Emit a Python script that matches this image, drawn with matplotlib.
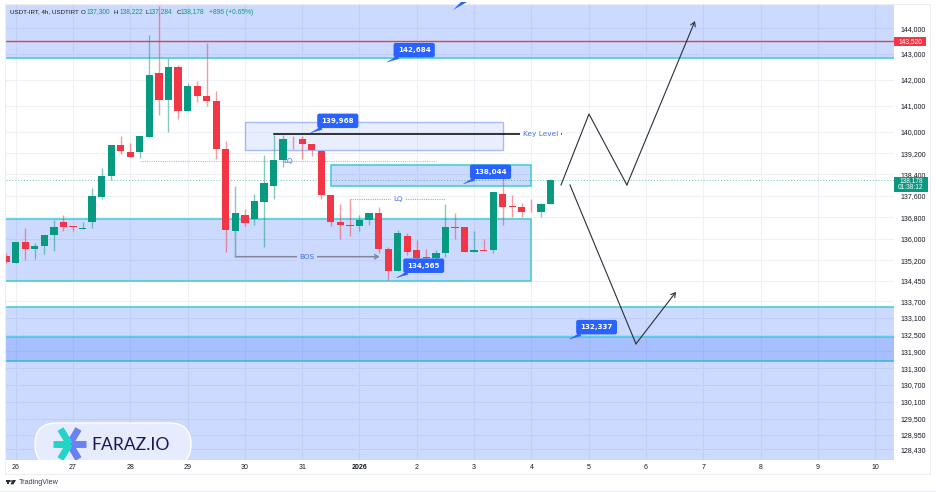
import matplotlib
matplotlib.use("Agg")
import matplotlib.pyplot as plt
from matplotlib.patches import Rectangle, FancyBboxPatch, Circle, Polygon
from matplotlib.ticker import NullLocator

# candles, 4h bars, first one is the cut off bar at the left edge
bar_index = list(range(-1, 57))
opens = [135360, 135100, 135870, 135620, 135735, 136130, 136618, 136470, 136370, 136630, 137561, 138348,
         139518, 139241, 139241, 139821, 142274, 141222, 142483, 140801, 141761, 141388, 141196, 139366,
         136285, 136879, 136730, 137375, 137961, 138927, 139707, 139722, 139555, 139279, 137624, 136630,
         136518, 136481, 136681, 136941, 135630, 134823, 136111, 135583, 135310, 135300, 135463, 136433,
         136433, 135499, 135583, 135572, 137662, 137204, 137167, 137000, 137000, 137300]
highs = [135470, 135870, 136385, 135852, 136137, 136692, 136879, 136470, 136618, 137874, 138626, 139518,
         139848, 139570, 139836, 143739, 144887, 142832, 142572, 141865, 141965, 143415, 141569, 139658,
         137961, 137090, 137662, 139128, 139886, 139886, 139859, 139859, 139555, 139316, 137624, 137277,
         137474, 136879, 136964, 137176, 135705, 136311, 136221, 135952, 135631, 135583, 137277, 136941,
         136433, 136285, 135978, 137725, 138250, 137624, 137314, 137474, 137314, 138222]
lows = [135110, 135100, 135216, 135252, 135436, 135558, 136274, 136285, 136370, 136407, 137474, 138186,
        139165, 139041, 139026, 139821, 140648, 140011, 140484, 140801, 141146, 140992, 138977, 135521,
        135336, 136481, 136507, 135705, 137486, 138686, 139343, 138977, 139090, 137486, 136481, 135989,
        136100, 136295, 136507, 135463, 134483, 134823, 135399, 135106, 134996, 135106, 135315, 135978,
        135499, 135499, 135558, 135484, 136496, 136815, 136815, 136975, 136815, 137284]
closes = [135150, 135867, 135620, 135730, 136137, 136433, 136433, 136445, 136396, 137586, 138348, 139518,
          139268, 139063, 139836, 142185, 141222, 142483, 140801, 141761, 141388, 141196, 139366, 136322,
          136964, 136593, 137389, 138084, 138927, 139722, 139685, 139555, 139306, 137624, 136630, 136518,
          136480, 136681, 136964, 135620, 134823, 136221, 135521, 135300, 135275, 135463, 136433, 136407,
          135499, 135572, 135558, 137725, 137187, 137167, 136978, 136975, 137300, 138178]

price_ticks = [144000, 143000, 142000, 141000, 140000, 139200, 138400, 137600, 136800, 136000, 135200, 134450,
               133700, 133100, 132500, 131900, 131300, 130700, 130100, 129500, 128950, 128430]
date_ticks = list(range(0, 96, 6))
date_labels = ["26", "27", "28", "29", "30", "31", "2026", "2", "3", "4", "5", "6", "7", "8", "9", "10"]

# zones: x start, x end, price top, price bottom
zone_x0 = [-3, -3, -3, -3, 33.0]
zone_x1 = [95, 53.96, 95, 95, 53.96]
zone_top = [145500, 136730, 133501, 132419, 138751]
zone_bot = [142863, 134447, 131560, 127500, 137972]

callout_x = [30.9, 46.9, 39.9, 38.9, 58.0]
callout_price = [139968, 138044, 134565, 142684, 132337]
callout_text = ["139,968", "138,044", "134,565", "142,684", "132,337"]

# projected paths
path_up_x = [57.1, 60.03, 64.0, 71.13]
path_up_y = [137999, 140686, 137999, 144286]
path_down_x = [58.04, 64.95, 69.14]
path_down_y = [137999, 132168, 134046]

last_price = 138178
line_price = 143520

GREEN = "#089981"
RED = "#f23645"
BLUE = "#2962ff"
CYAN = "#3ccbd8"
TXT = "#131722"

fig = plt.figure(figsize=(9.36, 4.92), dpi=100)
ax = fig.add_axes([6 / 936, 1 - 460 / 492, 888 / 936, 455 / 492])
ax.set_yscale("log")
ax.set_xlim(-1.016, 91.97)
ax.set_ylim(128062, 144916)

ax.yaxis.tick_right()
ax.set_yticks(price_ticks)
ax.set_yticklabels([f"{p:,}" for p in price_ticks])
ax.yaxis.set_minor_locator(NullLocator())
ax.set_xticks(date_ticks)
ax.set_xticklabels(date_labels)
ax.tick_params(axis="both", length=0, labelsize=5, labelcolor=TXT)
ax.tick_params(axis="y", pad=5)
ax.tick_params(axis="x", pad=3)
for lab in ax.get_xticklabels() + ax.get_yticklabels():
    lab.set_family("Liberation Sans")
ax.get_xticklabels()[6].set_fontweight("bold")
ax.grid(True, color="#eef1f6", lw=0.8)
ax.set_axisbelow(True)
for s in ax.spines.values():
    s.set_visible(False)

# zones
for x0, x1, t, b in zip(zone_x0, zone_x1, zone_top, zone_bot):
    ax.add_patch(Rectangle((x0, b), x1 - x0, t - b, fc=(41 / 255, 98 / 255, 1, 0.23), ec=CYAN, lw=1.1, zorder=1))
# key level box
ax.add_patch(Rectangle((24.05, 139317), 27.0, 140392 - 139317, fc=(41 / 255, 98 / 255, 1, 0.1),
                       ec=(0.4, 0.55, 0.95, 0.55), lw=1.0, zorder=1))

# candles
for i, o, h, l, c in zip(bar_index, opens, highs, lows, closes):
    col = GREEN if c >= o else RED
    ax.vlines(i, l, h, color=col, lw=1.0, alpha=0.5, zorder=3)
    ax.bar(i, max(abs(c - o), 22), bottom=min(o, c), width=0.76, color=col, lw=0, zorder=3)

ax.axhline(line_price, color="#e5404a", lw=1.0, zorder=2)
ax.axhline(last_price, color=GREEN, lw=0.7, ls=(0, (1, 2)), alpha=0.6, zorder=2)

# key level
ax.plot([27, 57.1], [139935, 139935], color="black", lw=1.1, zorder=4)
ax.text(54.95, 139935, "Key Level", color="#3f6ff0", fontsize=5.3, ha="center", va="center", zorder=5,
        family="DejaVu Sans", bbox=dict(fc="white", ec="none", pad=2))

# LQ lines
ax.plot([13, 44], [138920, 138920], color="#b9bcc0", lw=0.8, ls=(0, (1, 1)), zorder=2)
ax.text(28.5, 138920, "LQ", color="#3f6ff0", fontsize=5.2, ha="center", va="center", zorder=5)
ax.plot([35, 45], [137474, 137474], color="#a9acb2", lw=0.8, ls=(0, (1, 1)), zorder=2)
ax.text(40, 137474, "LQ", color="#3f6ff0", fontsize=5.2, ha="center", va="center", zorder=5,
        bbox=dict(fc="white", ec="none", pad=1.5))

# BOS
ax.annotate("", xy=(38.1, 135336), xytext=(23, 135336), zorder=4,
            arrowprops=dict(arrowstyle="->,head_length=0.25,head_width=0.15", color="#7f8797", lw=1.1, shrinkA=0, shrinkB=0))
ax.vlines(23, 135336, 136300, color="#8fa9b8", lw=1.0, zorder=4)
ax.text(30.5, 135336, "BOS", color="#3f6ff0", fontsize=5.2, ha="center", va="center", zorder=5,
        bbox=dict(fc="#cdd9fd", ec="none", pad=1.5))

# projected paths
ax.plot(path_up_x[:-1], path_up_y[:-1], color="#2b2f36", lw=0.8, zorder=4)
ax.annotate("", xy=(path_up_x[-1], path_up_y[-1]), xytext=(path_up_x[-2], path_up_y[-2]), zorder=4,
            arrowprops=dict(arrowstyle="->,head_length=0.3,head_width=0.18", color="#2b2f36", lw=0.8, shrinkA=0, shrinkB=0))
ax.plot(path_down_x[:-1], path_down_y[:-1], color="#2b2f36", lw=0.8, zorder=4)
ax.annotate("", xy=(path_down_x[-1], path_down_y[-1]), xytext=(path_down_x[-2], path_down_y[-2]), zorder=4,
            arrowprops=dict(arrowstyle="->,head_length=0.3,head_width=0.18", color="#2b2f36", lw=0.8, shrinkA=0, shrinkB=0))

# price callouts
for x, p, t in zip(callout_x, callout_price, callout_text):
    ax.annotate(t, xy=(x, p), xytext=(27, 12), textcoords="offset pixels", ha="center", va="center",
                color="white", fontsize=5.1, fontweight="bold", zorder=7,
                bbox=dict(boxstyle="round,pad=0.6,rounding_size=0.3", fc=BLUE, ec="none"),
                arrowprops=dict(arrowstyle="wedge,tail_width=0.45,shrink_factor=0.4", fc=BLUE, ec=BLUE, lw=0.3,
                                shrinkA=0, shrinkB=0))

# overlay in pixels for the frame, badges, legend and logos
ov = fig.add_axes([0, 0, 1, 1])
ov.set_xlim(0, 936)
ov.set_ylim(492, 0)
ov.axis("off")
ov.patch.set_alpha(0)

ov.add_patch(Rectangle((5, 4), 925, 470, fc="none", ec="#eceef2", lw=0.8))
ov.plot([0, 936], [490.5, 490.5], color="#eceef2", lw=0.8)

ov.add_patch(Rectangle((894, 37.3), 32, 8.4, fc=RED, ec="none"))
ov.text(910, 41.6, "143,520", color="white", fontsize=4.8, ha="center", va="center", family="Liberation Sans")
ov.add_patch(Rectangle((894, 177), 34, 14.7, fc=GREEN, ec="none"))
ov.text(911, 180.8, "138,178", color="white", fontsize=4.8, ha="center", va="center", family="Liberation Sans")
ov.text(911, 187.6, "01:38:12", color="white", fontsize=4.8, ha="center", va="center", family="Liberation Sans")

# top callout tail that is cut by the edge of the picture
ov.add_patch(Polygon([(453, 10), (461, 2), (467, 2)], fc=BLUE, ec="none"))

# legend line
ov.text(10, 12, "USDT-IRT, 4h, USDTIRT", color=TXT, fontsize=4.5, va="center", family="Liberation Sans")
for x, t in zip([81, 114, 146, 177], ["O", "H", "L", "C"]):
    ov.text(x, 12, t, color=TXT, fontsize=4.5, va="center", family="Liberation Sans")
for x, t in zip([87, 120, 149, 181, 209], ["137,300", "138,222", "137,284", "138,178", "+896 (+0.65%)"]):
    ov.text(x, 12, t, color=GREEN, fontsize=4.8, va="center", family="Liberation Sans")

# faraz logo pill, cut by the bottom of the pane
pane_clip = Rectangle((0, 0), 936, 460, transform=ov.transData)
pill = FancyBboxPatch((35, 423), 156, 43, boxstyle="round,pad=0,rounding_size=21.5",
                      fc="#e6ecfe", ec="white", lw=1.0, zorder=2)
ov.add_patch(pill)
pill.set_clip_path(pane_clip)

icx, icy = 69.5, 444
arms = [(-16.5, 0, "#25d4c8"), (-9, -15, "#25d4c8"), (-9, 15, "#25d4c8"),
        (16.5, 0, "#6a80f5"), (9, -15, "#6a80f5"), (9, 15, "#6a80f5")]
for dx, dy, col in sorted(arms, key=lambda a: a[2] == "#25d4c8"):
    arm, = ov.plot([icx + dx, icx], [icy + dy, icy], color=col, lw=5, solid_capstyle="butt", zorder=3)
    arm.set_clip_path(pane_clip)
ov.text(91, 445, "FARAZ.IO", color="#1c1a4f", fontsize=12.6, va="center", family="Lato", zorder=3)

# tradingview mark
ov.add_patch(Rectangle((5.7, 480), 4.4, 1.6, fc="#2a2e39", ec="none"))
ov.add_patch(Rectangle((7.4, 480), 1.7, 4.3, fc="#2a2e39", ec="none"))
ov.add_patch(Circle((11, 481), 0.9, fc="#2a2e39", ec="none"))
ov.add_patch(Polygon([(12.5, 480), (16, 480), (13.5, 484.3), (10.5, 484.3)], fc="#2a2e39", ec="none"))
ov.text(18.5, 482.5, "TradingView", color="#3a3e48", fontsize=5.2, va="center", family="Liberation Sans")

fig.savefig("out.png", dpi=100, facecolor="white")
